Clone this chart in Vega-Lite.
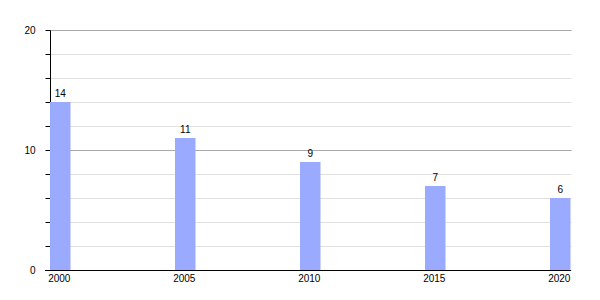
{
  "$schema": "https://vega.github.io/schema/vega-lite/v6.json",
  "width": 521,
  "height": 240,
  "autosize": {"type": "none"},
  "padding": {"left": 50, "top": 30, "right": 29, "bottom": 30},
  "background": "white",
  "config": {
    "view": {"stroke": null},
    "font": "Liberation Sans"
  },
  "data": {
    "values": [
      {"year": 2000, "value": 14},
      {"year": 2005, "value": 11},
      {"year": 2010, "value": 9},
      {"year": 2015, "value": 7},
      {"year": 2020, "value": 6}
    ]
  },
  "encoding": {
    "x": {
      "field": "year",
      "type": "quantitative",
      "scale": {"domain": [1999.59, 2020.43], "nice": false, "zero": false, "padding": 0},
      "axis": {
        "values": [2000, 2005, 2010, 2015, 2020],
        "format": "d",
        "title": null,
        "grid": false,
        "ticks": false,
        "domain": false,
        "labelFontSize": 10,
        "labelColor": "#000",
        "labelPadding": 3,
        "labelOffset": -1.5
      }
    },
    "y": {
      "field": "value",
      "type": "quantitative",
      "scale": {"domain": [0, 20], "nice": false},
      "axis": {
        "values": [0, 2, 4, 6, 8, 10, 12, 14, 16, 18, 20],
        "labelExpr": "datum.value % 10 === 0 ? datum.label : ''",
        "title": null,
        "grid": true,
        "gridColor": {"condition": {"test": "datum.value % 10 === 0", "value": "#aaaaaa"}, "value": "#e0e0e0"},
        "domainColor": "#000",
        "tickColor": "#000",
        "tickSize": 5,
        "labelFontSize": 10,
        "labelColor": "#000",
        "labelPadding": 10
      }
    }
  },
  "layer": [
    {
      "mark": {"type": "bar", "width": 20.5, "color": "#99aaff"},
      "encoding": {}
    },
    {
      "mark": {"type": "rule", "color": "#000", "strokeWidth": 1, "yOffset": 0.5},
      "encoding": {"y": {"datum": 0}, "x": {"value": -5}, "x2": {"value": 521}}
    },
    {
      "mark": {"type": "text", "baseline": "bottom", "dy": -3, "fontSize": 10, "color": "#000"},
      "encoding": {"text": {"field": "value", "type": "quantitative"}}
    }
  ]
}
